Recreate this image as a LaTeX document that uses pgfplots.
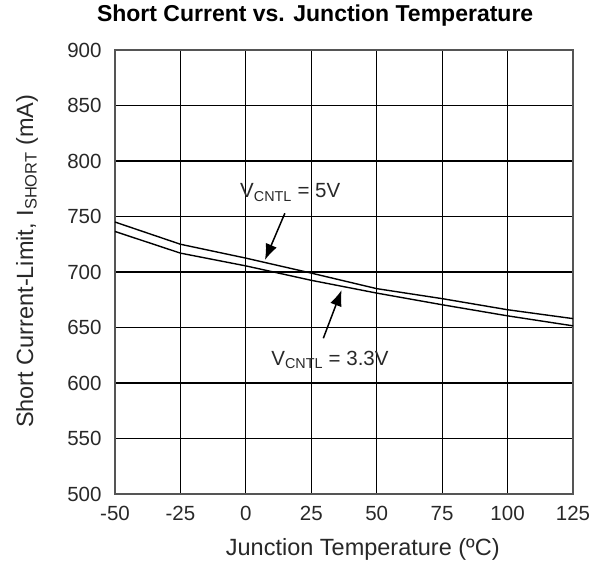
\documentclass[border=0pt]{standalone}
\usepackage{fontspec}
\setmainfont{Liberation Sans}
\usepackage{pgfplots}
\pgfplotsset{compat=1.18}
\usetikzlibrary{arrows.meta}

\definecolor{txt}{RGB}{40,40,40}
\definecolor{frame}{RGB}{85,85,85}
\newcommand{\lbl}{\fontsize{20.5}{24}\selectfont}
\newcommand{\biglbl}{\fontsize{23.5}{28}\selectfont}

\begin{document}
\begin{tikzpicture}
\begin{axis}[
    scale only axis,
    width=458pt, height=444pt,
    xmin=-50, xmax=125,
    ymin=500, ymax=900,
    xtick={-50,-25,...,125},
    ytick={500,550,...,900},
    grid=major,
    major grid style={black, line width=1.1pt},
    axis line style={frame, line width=1.4pt},
    major tick length=0pt,
    tick label style={font=\lbl, text=txt},
    /pgf/number format/assume math mode=true,
    xticklabel shift=9pt,
    yticklabel shift=10pt,
    title={Short Current vs. Junction Temperature},
    title style={font=\fontsize{23}{28}\selectfont\bfseries, text=black,
        at={(axis description cs:0.437,1)}, anchor=base, yshift=22pt},
    xlabel={Junction Temperature (ºC)},
    xlabel style={font=\biglbl, text=txt,
        at={(axis description cs:0.541,0)}, anchor=base, yshift=-62pt},
    ylabel={Short Current-Limit, I\textsubscript{SHORT} (mA)},
    ylabel style={font=\biglbl, text=txt,
        at={(axis description cs:-0.179,0.524)}, anchor=base},
]

% V_CNTL = 5V
\addplot[black, line width=1.4pt] coordinates {
    (-50,745) (-25,725) (0,712.5) (25,699) (50,685)
    (75,676) (100,666) (125,658)
};
% V_CNTL = 3.3V
\addplot[black, line width=1.4pt] coordinates {
    (-50,736.5) (-25,717) (0,705.5) (25,692.5) (50,681)
    (75,670.5) (100,660.5) (125,651.5)
};

\node[anchor=base west, font=\lbl, text=txt] at (axis cs:-3.5,766.7)
    {V\textsubscript{CNTL} = 5V};
\draw[-{Latex[length=16pt,width=12pt]}, line width=1.5pt]
    (axis cs:14.9,752.9) -- (axis cs:7.3,710.8);

\node[anchor=base west, font=\lbl, text=txt] at (axis cs:8.4,616.2)
    {V\textsubscript{CNTL} = 3.3V};
\draw[-{Latex[length=16pt,width=12pt]}, line width=1.5pt]
    (axis cs:29.6,640.3) -- (axis cs:36.6,683.8);
\end{axis}
\pgfresetboundingbox
\useasboundingbox (-115pt,-73pt) rectangle (482pt,494pt);
\end{tikzpicture}
\end{document}
